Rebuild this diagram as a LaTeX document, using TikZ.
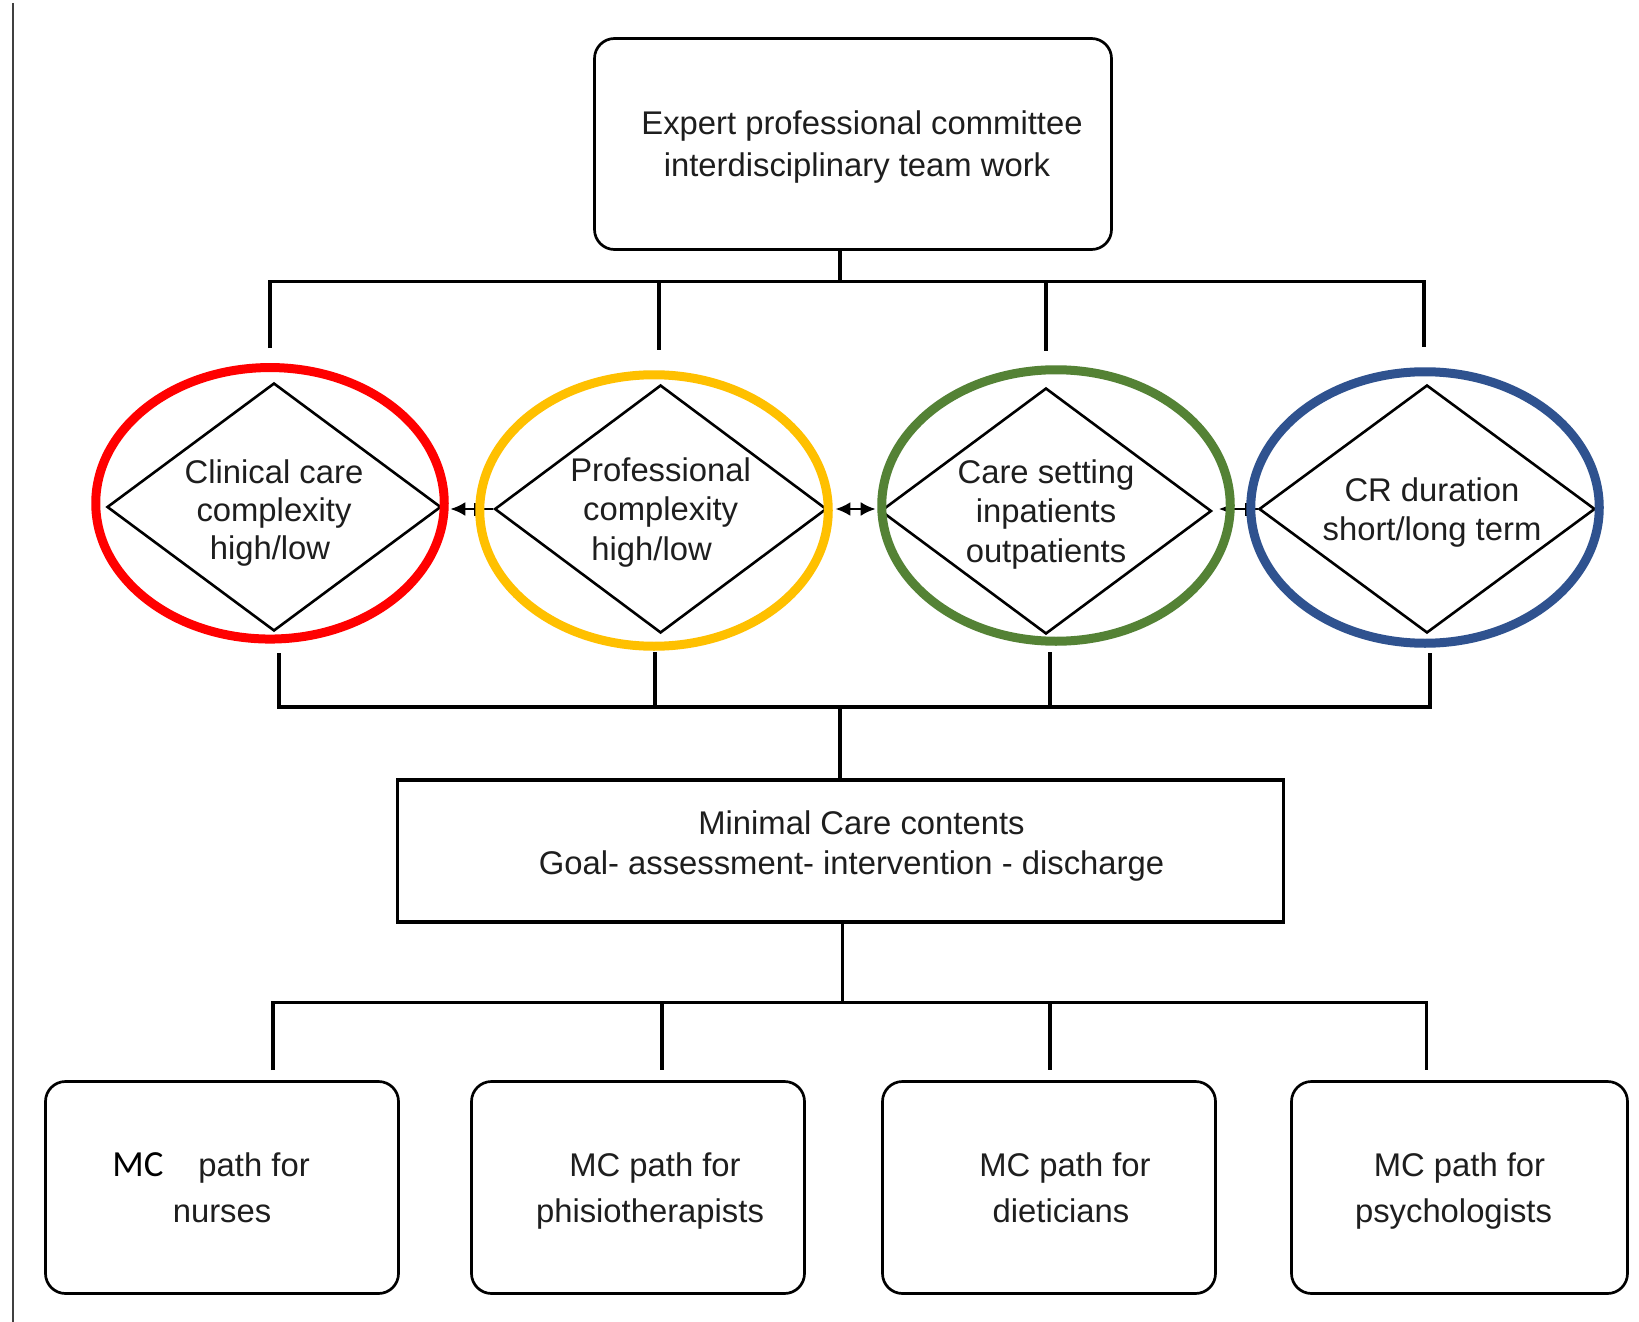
\documentclass[tikz,border=0pt]{standalone}
\usepackage{fontspec}
\setmainfont{Liberation Sans}
\newfontfamily\calibri{Carlito}
\usetikzlibrary{shapes.geometric,arrows.meta}
\definecolor{cred}{RGB}{255,0,0}
\definecolor{cyel}{RGB}{255,192,0}
\definecolor{cgrn}{RGB}{84,130,53}
\definecolor{cblu}{RGB}{47,82,143}
\definecolor{txt}{RGB}{30,30,30}
\begin{document}
\begin{tikzpicture}[x=0.5pt,y=-0.5pt,
  every node/.style={text=txt},
  rbox/.style={draw=black, line width=1.35pt, rounded corners=10pt, align=center, inner sep=0pt, text depth=0pt},
  sbox/.style={draw=black, line width=1.8pt, align=center, inner sep=0pt},
  dia/.style={diamond, draw=black, line width=1.3pt, align=center, inner sep=-14pt, text depth=0pt},
  ring/.style={ellipse, line width=4.5pt, inner sep=0pt, minimum width=174.25pt, minimum height=135.75pt},
  conn/.style={line width=1.6pt, black},
  link/.style={line width=1.3pt, black, shorten >=#1},
  link/.default=0pt,
  barmark/.style={fill=black, draw=none, inner sep=0pt, minimum width=1.5pt, minimum height=6.5pt},
  f164/.style={font=\fontsize{16.4}{#1}\selectfont},
]
\useasboundingbox (0,0) rectangle (1639,1322);
\fill[white] (0,0) rectangle (1639,1322);

% left rule
\draw[line width=1.2pt, black!75] (13,3) -- (13,1322);

% top box
\node[rbox, f164=21, minimum width=258.5pt, minimum height=105.5pt] (top) at (853,144)
  {\hspace*{9pt}Expert professional committee\\\hspace*{4pt}interdisciplinary team work};

% diamonds
\node[dia, f164=19, minimum width=167pt, minimum height=124pt] (d1) at (274,507)
  {\rule{0pt}{14.7pt}Clinical care\\complexity\\high/low\hspace*{4pt}};
\node[dia, f164=19.8, minimum width=166pt, minimum height=124pt] (d2) at (660.6,509)
  {Professional\\complexity\\high/low\hspace*{9pt}};
\node[dia, f164=19.8, minimum width=165.5pt, minimum height=123pt] (d3) at (1046,511)
  {Care setting\\inpatients\\outpatients};
\node[dia, f164=19.8, minimum width=168pt, minimum height=124pt] (d4) at (1427,509)
  {\hspace*{5pt}CR duration\\\hspace*{5pt}short/long term};

% arrows between diamonds
\draw[link=4pt, -{Latex[length=7.5pt,width=7pt]}] (d2.west) -- node[pos=0.35, barmark]{} (d2.west -| d1.east);
\draw[line width=1.3pt, {Latex[length=7.5pt,width=7pt]}-{Latex[length=7.5pt,width=7pt]}, shorten <=3.75pt, shorten >=1.75pt] (d2.east) -- (d2.east -| d3.west);
\draw[link=3pt, -{Latex[length=7.5pt,width=7pt]}] (d4.west) -- node[pos=0.26, barmark]{} (d4.west -| d3.east);

% ellipses
\node[ring, draw=cred] (e1) at (270,503.3) {};
\node[ring, draw=cyel] (e2) at (654,510.5) {};
\node[ring, draw=cgrn] (e3) at (1056,505.5) {};
\node[ring, draw=cblu] (e4) at (1425,507.5) {};

% upper bus
\coordinate (tb) at (840,281.5);
\coordinate (tl) at (270,281.5);
\coordinate (t2) at (659,281.5);
\coordinate (t3) at (1046,281.5);
\coordinate (tr) at (1424,281.5);
\coordinate (u1) at (270,348);
\coordinate (u2) at (659,350);
\coordinate (u3) at (1046,351);
\coordinate (u4) at (1424,347);
\draw[conn] (top.south -| tb) -- (tb);
\draw[conn] (u1) -- (tl) -- (tr) -- (u4);
\draw[conn] (t2) -- (u2);
\draw[conn] (t3) -- (u3);

% lower bus
\coordinate (v1) at (279,653);
\coordinate (v2) at (655,652);
\coordinate (v3) at (1050,652);
\coordinate (v4) at (1430,653);
\coordinate (lb1) at (279,707);
\coordinate (lb2) at (655,707);
\coordinate (lb3) at (1050,707);
\coordinate (lb4) at (1430,707);
\coordinate (mb) at (840,707);
\draw[conn] (v1) -- (lb1) -- (lb4) -- (v4);
\draw[conn, line width=2.2pt] (v1) -- (lb1);
\draw[conn] (v2) -- (lb2);
\draw[conn, line width=2.2pt] (v3) -- (lb3);

% middle box
\node[sbox, f164=20.4, minimum width=443pt, minimum height=71pt] (mid) at (840.5,851)
  {\hspace*{21pt}Minimal Care contents\\\hspace*{11pt}Goal- assessment- intervention - discharge\rule[-8.4pt]{0pt}{0pt}};
\draw[conn] (mb) -- (mid.north -| mb);

% bottom bus
\coordinate (mb2) at (842.5,1002.5);
\coordinate (bb1) at (273,1002.5);
\coordinate (bb2) at (662,1002.5);
\coordinate (bb3) at (1050,1002.5);
\coordinate (bb4) at (1426.5,1002.5);
\coordinate (w1) at (273,1070);
\coordinate (w2) at (662,1070);
\coordinate (w3) at (1050,1070);
\coordinate (w4) at (1426.5,1070);
\draw[conn] (mid.south -| mb2) -- (mb2);
\draw[conn] (w1) -- (bb1) -- (bb4) -- (w4);
\draw[conn] (bb2) -- (w2);
\draw[conn] (bb3) -- (w3);

% bottom boxes
\node[rbox, f164=23.2, minimum width=176.5pt, minimum height=106pt] (n1) at (222,1187.5)
  {{\calibri\fontsize{18.4}{23.2}\selectfont\color{black}MC}\hspace*{13pt} path for\hspace*{11pt}\\nurses};
\node[rbox, f164=23.2, minimum width=166.5pt, minimum height=106pt] (n2) at (638,1187.5)
  {\hspace*{17pt}MC path for\\\hspace*{12pt}phisiotherapists};
\node[rbox, f164=23.2, minimum width=166.5pt, minimum height=106pt] (n3) at (1049,1187.5)
  {\hspace*{16pt}MC path for\\\hspace*{12pt}dieticians};
\node[rbox, f164=23.2, minimum width=168pt, minimum height=106pt] (n4) at (1459.5,1187.5)
  {MC path for\\psychologists\hspace*{6pt}};
\end{tikzpicture}
\end{document}
